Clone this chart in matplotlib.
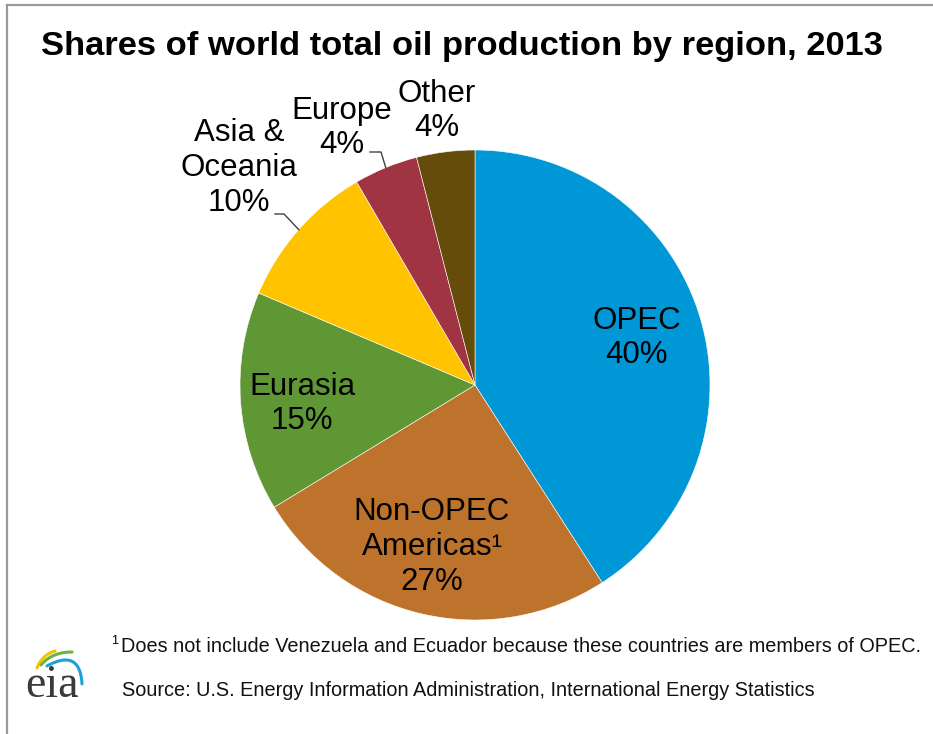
import numpy as np
import matplotlib.pyplot as plt
from matplotlib.lines import Line2D

# shares as drawn in the pie, and the printed labels
regions = ['OPEC', 'Non-OPEC\nAmericas\u00b9', 'Eurasia', 'Asia &\nOceania', 'Europe', 'Other']
shares = [40.9, 25.4, 15.1, 10.2, 4.4, 4.0]
pct_labels = ['40%', '27%', '15%', '10%', '4%', '4%']
colors = ['#0097D7', '#BE732C', '#5E9733', '#FFC300', '#A03442', '#654C0B']

W, H = 933, 734
fig = plt.figure(figsize=(W / 100, H / 100), dpi=100)
fig.patch.set_facecolor('white')

# pie placed in pixel space
cx, cy, R = 475, 385, 235
ax = fig.add_axes([(cx - R) / W, 1 - (cy + R) / H, 2 * R / W, 2 * R / H])
wedges, _ = ax.pie(shares, colors=colors, startangle=90, counterclock=False,
                   radius=1, wedgeprops=dict(linewidth=0.4, edgecolor='white'))
ax.set_xlim(-1, 1)
ax.set_ylim(-1, 1)
ax.set_aspect('equal')
ax.axis('off')


def px(x, y):
    return (x - cx) / R, (cy - y) / R


font = 'Liberation Sans'
# label centres in pixels
label_pos = [(637, 338), (432, 547), (302, 404), (239, 168), (342, 128), (437, 111)]
for name, pct, pos in zip(regions, pct_labels, label_pos):
    x, y = px(*pos)
    ax.text(x, y, name + '\n' + pct, ha='center', va='center', fontsize=22.5,
            family=font, linespacing=1.2, color='black', clip_on=False)

# leader lines for the small outside slices
leaders = {3: [(275, 214), (284, 214)], 4: [(370, 152), (381, 152)]}
for i, pts in leaders.items():
    w = wedges[i]
    mid = np.deg2rad((w.theta1 + w.theta2) / 2)
    xs = [px(*p)[0] for p in pts] + [np.cos(mid)]
    ys = [px(*p)[1] for p in pts] + [np.sin(mid)]
    ax.plot(xs, ys, color='#404040', lw=1, clip_on=False)

# title
fig.text(462 / W, 1 - 46 / H, 'Shares of world total oil production by region, 2013',
         ha='center', va='center', fontsize=24.8, weight='bold', family=font)

# footnote and source
fig.text(111 / W, 1 - 641 / H, '1', ha='left', va='center', fontsize=9, family=font)
fig.text(121 / W, 1 - 647 / H,
         'Does not include Venezuela and Ecuador because these countries are members of OPEC.',
         ha='left', va='center', fontsize=14.3, family=font, color='#111111')
fig.text(122 / W, 1 - 691 / H,
         'Source: U.S. Energy Information Administration, International Energy Statistics',
         ha='left', va='center', fontsize=14.3, family=font, color='#111111')

# frame
fig.add_artist(Line2D([7.5 / W, 7.5 / W], [0, 1 - 5 / H], color='#9A9A9A', lw=1.6))
fig.add_artist(Line2D([7.5 / W, 1], [1 - 5 / H, 1 - 5 / H], color='#9A9A9A', lw=1.6))

# eia logo
lg = fig.add_axes([15 / W, 1 - 705 / H, 80 / W, 70 / H])
lg.set_xlim(15, 95)
lg.set_ylim(705, 635)
lg.axis('off')
lg.text(52, 697, 'eia', ha='center', va='baseline', fontsize=33,
        family='Liberation Serif', color='#3A3A3A')


def swoosh(p0, p1, p2, color, lw):
    t = np.linspace(0, 1, 40)[:, None]
    pts = (1 - t) ** 2 * np.array(p0) + 2 * (1 - t) * t * np.array(p1) + t ** 2 * np.array(p2)
    lg.plot(pts[:, 0], pts[:, 1], color=color, lw=lw, solid_capstyle='round')


swoosh((37, 668), (42, 655), (55, 651), '#F4C400', 2.2)
swoosh((41, 665), (52, 652), (72, 652), '#6DB33F', 2.2)
swoosh((47, 666), (80, 648), (82, 684), '#1BA1DC', 2.2)

fig.savefig('out.png', dpi=100)
